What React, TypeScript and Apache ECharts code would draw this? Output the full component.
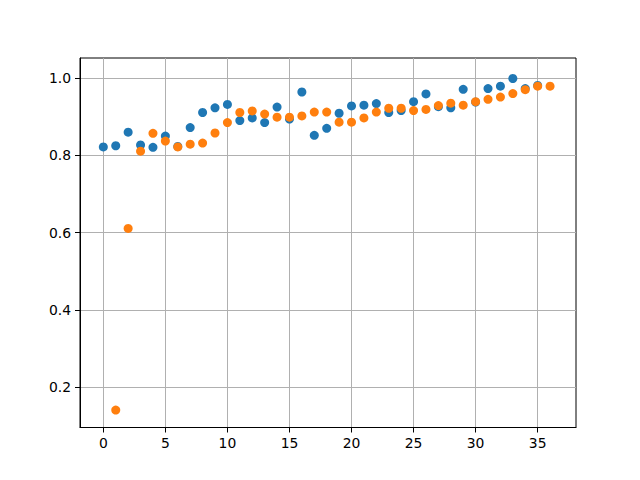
import React, { useEffect, useRef } from "react";
import * as echarts from "echarts";

const blueX = [0, 1, 2, 3, 4, 5, 6, 7, 8, 9, 10, 11, 12, 13, 14, 15, 16, 17, 18, 19, 20, 21, 22, 23, 24, 25, 26, 27, 28, 29, 30, 31, 32, 33, 34, 35];
const blueValues = [
  0.822, 0.825, 0.86, 0.827, 0.821, 0.85, 0.823, 0.872, 0.911, 0.923, 0.932, 0.89,
  0.897, 0.885, 0.925, 0.894, 0.964, 0.852, 0.87, 0.909, 0.928, 0.93, 0.934, 0.911,
  0.916, 0.939, 0.959, 0.926, 0.923, 0.971, 0.938, 0.973, 0.979, 0.999, 0.973, 0.981,
];
const orangeX = [1, 2, 3, 4, 5, 6, 7, 8, 9, 10, 11, 12, 13, 14, 15, 16, 17, 18, 19, 20, 21, 22, 23, 24, 25, 26, 27, 28, 29, 30, 31, 32, 33, 34, 35, 36];
const orangeValues = [
  0.141, 0.611, 0.811, 0.857, 0.837, 0.822, 0.829, 0.832, 0.858, 0.885, 0.911, 0.915,
  0.907, 0.899, 0.899, 0.902, 0.912, 0.912, 0.886, 0.886, 0.897, 0.912, 0.922, 0.922,
  0.916, 0.919, 0.929, 0.935, 0.93, 0.939, 0.945, 0.951, 0.96, 0.97, 0.979, 0.979,
];
const xTicks = [0, 5, 10, 15, 20, 25, 30, 35];
const yTicks = [0.2, 0.4, 0.6, 0.8, 1.0];

export default function App() {
  const ref = useRef<HTMLDivElement>(null);
  useEffect(() => {
    if (!ref.current) return;
    const chart = echarts.init(ref.current, null, { renderer: "svg" });
    const font = "DejaVu Sans";
    chart.setOption({
      animation: false,
      backgroundColor: "#ffffff",
      grid: {
        left: 80,
        top: 58,
        right: 64,
        bottom: 52.5,
        show: true,
        borderColor: "#000000",
        borderWidth: 1,
        backgroundColor: "transparent",
      },
      xAxis: {
        type: "value",
        min: -1.88,
        max: 38.09,
        axisLine: { show: true, onZero: false, lineStyle: { color: "#000", width: 1 } },
        axisTick: { show: true, length: 5, lineStyle: { color: "#000", width: 1 }, customValues: xTicks },
        axisLabel: {
          customValues: xTicks,
          margin: 8,
          color: "#000",
          fontFamily: font,
          fontSize: 13.9,
          formatter: (v: number) => String(v),
        },
        splitLine: { show: true, lineStyle: { color: "#b0b0b0", width: 1 } },
      },
      yAxis: {
        type: "value",
        min: 0.096,
        max: 1.052,
        axisLine: { show: true, onZero: false, lineStyle: { color: "#000", width: 1 } },
        axisTick: { show: true, length: 5, lineStyle: { color: "#000", width: 1 }, customValues: yTicks },
        axisLabel: {
          customValues: yTicks,
          margin: 9,
          color: "#000",
          fontFamily: font,
          fontSize: 13.9,
          formatter: (v: number) => v.toFixed(1),
        },
        splitLine: { show: true, lineStyle: { color: "#b0b0b0", width: 1 } },
      },
      series: [
        {
          type: "scatter",
          data: blueX.map((x, i) => [x, blueValues[i]]),
          symbolSize: 9,
          itemStyle: { color: "#1f77b4", opacity: 1 },
          z: 2,
        },
        {
          type: "scatter",
          data: orangeX.map((x, i) => [x, orangeValues[i]]),
          symbolSize: 9,
          itemStyle: { color: "#ff7f0e", opacity: 1 },
          z: 3,
        },
      ],
    });
    return () => chart.dispose();
  }, []);
  return <div ref={ref} style={{ width: 640, height: 480, position: "absolute", left: 0, top: 0 }} />;
}
